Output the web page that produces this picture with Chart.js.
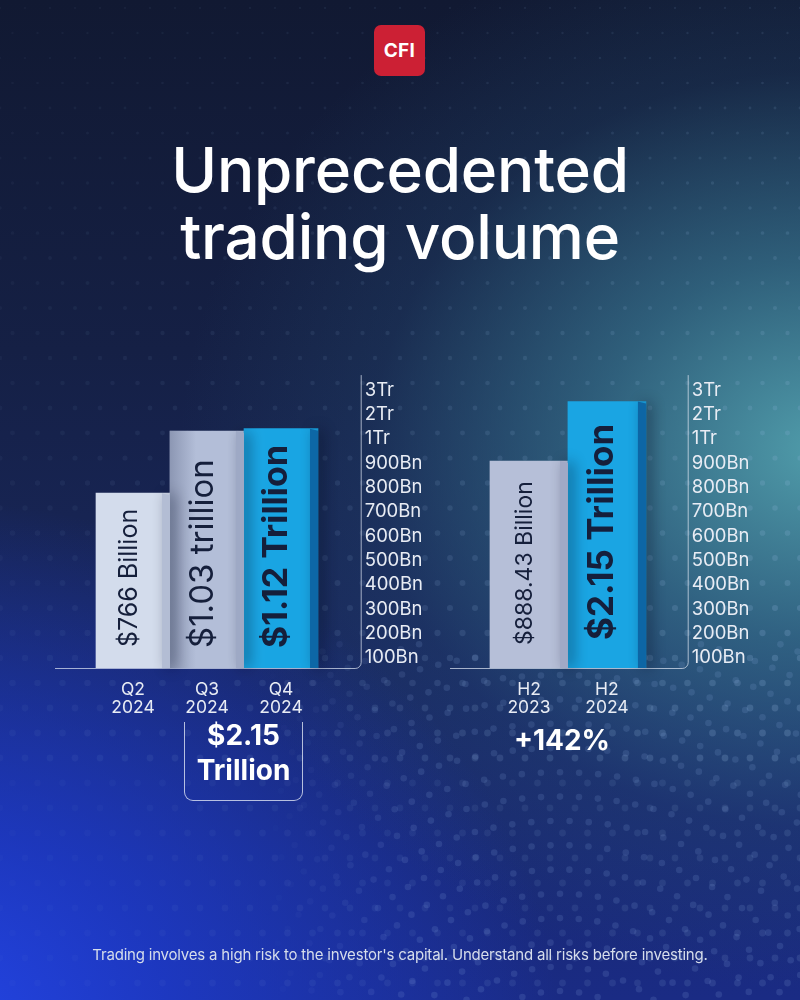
<!DOCTYPE html>
<html>
<head>
<meta charset="utf-8">
<script src="https://cdn.jsdelivr.net/npm/chart.js@4.4.1/dist/chart.umd.min.js"></script>
<style>
html,body{margin:0;padding:0;width:800px;height:1000px;overflow:hidden;background:#141c3c;font-family:Inter,"Open Sans",sans-serif;}
#bg{position:absolute;left:0;top:0;width:800px;height:1000px;
background:
 radial-gradient(ellipse 640px 540px at 820px 450px, rgba(80,156,170,1) 0%, rgba(58,122,146,0.7) 35%, rgba(40,84,120,0.25) 70%, rgba(30,60,100,0) 100%),
 radial-gradient(ellipse 640px 540px at -80px 1040px, rgba(36,70,232,1) 0%, rgba(30,60,212,0.75) 40%, rgba(25,45,160,0) 100%),
 linear-gradient(180deg,#111932 0%,#152045 35%,#182659 60%,#1a2b84 100%);}
#dots{position:absolute;left:0;top:0;}
.abs{position:absolute;}
#logo{left:374px;top:25px;width:51px;height:51px;background:#cc2034;border-radius:7px;color:#fff;font-weight:700;font-size:19px;line-height:51px;text-align:center;letter-spacing:0.3px;}
#title{left:0;top:136px;width:800px;text-align:center;color:#fff;font-size:62px;font-weight:500;line-height:67px;letter-spacing:-0.2px;}
#c1{left:0;top:360px;}
#c2{left:440px;top:360px;}
#box{left:184px;top:722px;width:117px;height:78px;border:1px solid rgba(235,240,250,0.75);border-top:none;border-radius:0 0 9px 9px;}
#boxText{left:184px;top:718px;width:119px;text-align:center;color:#fff;font-weight:700;font-size:28px;line-height:35px;}
#pct{left:500px;top:723px;width:124px;text-align:center;color:#fff;font-weight:700;font-size:28px;line-height:35px;}
#disc{left:0;top:945px;width:800px;text-align:center;color:#d6ddeb;font-size:15px;letter-spacing:-0.2px;}
</style>
</head>
<body>
<div id="bg"></div>
<canvas id="dots" width="800" height="1000"></canvas>
<div id="logo" class="abs">CFI</div>
<div id="title" class="abs">Unprecedented<br>trading volume</div>
<canvas id="c1" class="abs" width="440" height="360"></canvas>
<canvas id="c2" class="abs" width="360" height="360"></canvas>
<div id="box" class="abs"></div>
<div id="boxText" class="abs">$2.15<br>Trillion</div>
<div id="pct" class="abs">+142%</div>
<div id="disc" class="abs">Trading involves a high risk to the investor's capital. Understand all risks before investing.</div>
<script>
// ---------- DATA ----------
const quarterLabels = [['Q2', '2024'], ['Q3', '2024'], ['Q4', '2024']];
const quarterValuesBn = [766, 1030, 1120];
const quarterBarText = ['$766 Billion', '$1.03 trillion', '$1.12 Trillion'];

const halfLabels = [['H2', '2023'], ['H2', '2024']];
const halfValuesBn = [888.43, 2150];
const halfBarText = ['$888.43 Billion', '$2.15 Trillion'];

const axisTickLabels = ['100Bn', '200Bn', '300Bn', '400Bn', '500Bn', '600Bn', '700Bn', '800Bn', '900Bn', '1Tr', '2Tr', '3Tr'];

// ---------- decorative dots ----------
(function () {
  const c = document.getElementById('dots').getContext('2d');
  const sp = 25;
  for (let row = 0; row * sp < 1000; row++) {
    for (let col = -1; col * sp < 820; col++) {
      const x = col * sp + (row % 2) * sp / 2, y = row * sp + 8;
      const fx = x / 800, fy = y / 1000;
      let a = 0.05 + 0.16 * fx * (0.4 + fy);
      if (y > 760) a *= 0.55;
      const r = 1.1 + 2.3 * Math.min(1, fy * 1.4);
      c.fillStyle = 'rgba(150,185,225,' + a.toFixed(3) + ')';
      c.beginPath(); c.arc(x, y, r, 0, Math.PI * 2); c.fill();
    }
  }
  const cx = 560, cy = 1090;
  for (let rr = 110; rr < 560; rr += 27) {
    const n = Math.round(Math.PI * rr / 19);
    for (let k = 0; k <= n; k++) {
      const ang = Math.PI + Math.PI * k / n;
      const x = cx + rr * Math.cos(ang), y = cy + rr * 0.9 * Math.sin(ang);
      if (y < 640 || x < 260) continue;
      const a = 0.15 * Math.min(1, (x - 260) / 160);
      c.fillStyle = 'rgba(150,180,235,' + a.toFixed(3) + ')';
      c.beginPath(); c.arc(x, y, 3.3, 0, Math.PI * 2); c.fill();
    }
  }
})();

// ---------- helpers ----------
function toLevel(bn) { return bn < 1000 ? bn / 100 : 9 + bn / 1000; }
const FONT = 'Inter, "Open Sans", sans-serif';
const TXT = '#e8ecf4';

const bar3d = {
  id: 'bar3d',
  afterDatasetsDraw(chart, args, o) {
    const ctx = chart.ctx;
    const meta = chart.getDatasetMeta(0);
    const bottom = chart.chartArea.bottom;
    meta.data.forEach((bar, i) => {
      const p = bar.getProps(['x', 'y', 'base', 'width'], true);
      const base = Math.min(p.base, bottom);
      const left = p.x - p.width / 2, right = p.x + p.width / 2, sl = right - o.side;
      ctx.save();
      if (o.shade[i] > 0) {
        const g = ctx.createLinearGradient(left, 0, left + 26, 0);
        g.addColorStop(0, 'rgba(40,50,85,' + o.shade[i] + ')');
        g.addColorStop(1, 'rgba(40,50,85,0)');
        ctx.fillStyle = g;
        ctx.fillRect(left, p.y, 26, base - p.y);
      }
      ctx.shadowColor = 'rgba(5,10,30,0.45)';
      ctx.shadowBlur = 14;
      ctx.shadowOffsetX = 5;
      ctx.fillStyle = o.sideColors[i];
      ctx.beginPath();
      ctx.moveTo(sl, p.y); ctx.lineTo(right, p.y + 2); ctx.lineTo(right, base); ctx.lineTo(sl, base);
      ctx.closePath(); ctx.fill();
      ctx.restore();
      ctx.save();
      ctx.translate(left + (p.width - o.side) / 2, base - o.textOffset[i]);
      ctx.rotate(-Math.PI / 2);
      ctx.fillStyle = '#151f3b';
      ctx.font = o.fontWeight[i] + ' ' + o.fontSize[i] + 'px ' + FONT;
      ctx.textAlign = 'left';
      ctx.textBaseline = 'middle';
      ctx.fillText(o.texts[i], 0, 0);
      ctx.restore();
    });
  }
};

const frame = {
  id: 'frame',
  beforeDatasetsDraw(chart) {
    const a = chart.chartArea, ctx = chart.ctx, r = 6;
    ctx.save();
    ctx.strokeStyle = 'rgba(225,232,245,0.7)';
    ctx.lineWidth = 1;
    ctx.beginPath();
    ctx.moveTo(a.left, a.bottom + 0.5);
    ctx.lineTo(a.right - r + 0.5, a.bottom + 0.5);
    ctx.arcTo(a.right + 0.5, a.bottom + 0.5, a.right + 0.5, a.bottom - r, r);
    ctx.lineTo(a.right + 0.5, a.top);
    ctx.stroke();
    ctx.restore();
  }
};

function makeChart(id, labels, valuesBn, texts, cfg) {
  return new Chart(document.getElementById(id), {
    type: 'bar',
    data: {
      datasets: [{
        data: valuesBn.map((v, i) => ({ x: i, y: toLevel(v) })),
        backgroundColor: cfg.frontColors,
        borderWidth: 0,
        barThickness: cfg.thickness
      }]
    },
    plugins: [frame, bar3d],
    options: {
      responsive: false,
      animation: false,
      devicePixelRatio: 1,
      layout: { padding: { left: cfg.padLeft, top: 13, right: 0, bottom: 0 } },
      plugins: {
        legend: { display: false },
        tooltip: { enabled: false },
        bar3d: {
          side: 8,
          sideColors: cfg.sideColors,
          shade: cfg.shade,
          texts: texts,
          fontSize: cfg.fontSize,
          fontWeight: cfg.fontWeight,
          textOffset: cfg.textOffset
        }
      },
      scales: {
        x: {
          type: 'linear',
          min: cfg.xMin, max: cfg.xMax,
          offset: false,
          bounds: 'data',
          grid: { display: false },
          border: { display: false },
          afterBuildTicks: s => { s.ticks = labels.map((_, i) => ({ value: i })); },
          afterFit: s => { s.height = 52; },
          ticks: {
            autoSkip: false, maxRotation: 0, padding: 5,
            color: TXT,
            font: { family: FONT, size: 17.5, lineHeight: 1.0 },
            callback: v => labels[v]
          }
        },
        y: { type: 'linear', display: false, min: 1, max: 12.16 },
        y2: {
          type: 'linear',
          position: 'right',
          min: 0.58, max: 12.62,
          bounds: 'data',
          grid: { display: false, drawTicks: false },
          border: { display: false },
          afterBuildTicks: s => { s.ticks = axisTickLabels.map((_, i) => ({ value: i + 1 })); },
          afterFit: s => { s.width = cfg.axisWidth; },
          ticks: {
            padding: 4, crossAlign: 'near', autoSkip: false,
            color: TXT,
            font: { family: FONT, size: 18.5 },
            callback: v => axisTickLabels[v - 1]
          }
        }
      }
    }
  });
}

makeChart('c1', quarterLabels, quarterValuesBn, quarterBarText, {
  thickness: 74, padLeft: 55, axisWidth: 79.3, xMin: -1.054, xMax: 3.077,
  frontColors: ['#d3dcec', '#b3bed8', '#19a5e3'],
  sideColors: ['#b3bdd4', '#9ea9c5', '#0d67a6'],
  shade: [0, 0.28, 0],
  fontSize: [25, 33, 34],
  fontWeight: [400, 400, 700],
  textOffset: [21, 20, 20]
});

makeChart('c2', halfLabels, halfValuesBn, halfBarText, {
  thickness: 78, padLeft: 10, axisWidth: 112.3, xMin: -1.013, xMax: 2.036,
  frontColors: ['#b6bfd8', '#1aa5e3'],
  sideColors: ['#a0a9c6', '#0d66a5'],
  shade: [0, 0],
  fontSize: [23, 35],
  fontWeight: [400, 700],
  textOffset: [23, 28]
});
</script>
</body>
</html>
